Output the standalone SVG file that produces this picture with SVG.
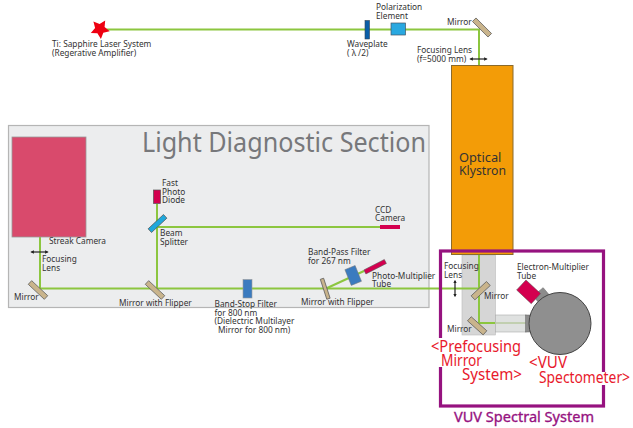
<svg xmlns="http://www.w3.org/2000/svg" width="633" height="428" viewBox="0 0 633 428">
<style>
text{font-family:"Noto Sans","Open Sans",sans-serif}
.l{font-size:8.3px;fill:#333}
.r{font-size:16.500px;fill:#e8192c}
.m{fill:#c9b48c;stroke:#555;stroke-width:.7}
.b{fill:none;stroke:#8cc63f;stroke-width:2}
.a{fill:none;stroke:#222;stroke-width:1.200}
</style>
<defs>
<marker id="h" markerWidth="3" markerHeight="3" refX="2" refY="1.500" orient="auto-start-reverse"><path d="M0 0L3 1.500L0 3Z" fill="#222"/></marker>
</defs>
<g id="diagnostic-panel">
<rect x="8.500" y="125.500" width="420.500" height="182" fill="#ecedee" stroke="#b5b5b5" stroke-width="1.200"/>
<text x="142" y="152" font-size="28" fill="#77787b" textLength="284" lengthAdjust="spacingAndGlyphs">Light Diagnostic Section</text>
</g>
<g id="prefocusing-panel">
<rect x="462" y="255" width="33.500" height="80" fill="#d6d6d6" stroke="#bbb" stroke-width=".6"/>
<rect x="495.500" y="315" width="31" height="17" fill="#dfe1e0" stroke="#aaa" stroke-width=".6"/>
</g>
<g id="connectors">
<path class="b" d="M100 29.500H479V65"/>
<path class="b" d="M479 255V288"/>
<path class="b" d="M40 237V288.500H480"/>
<path class="b" d="M157 204V288.500"/>
<path class="b" d="M157 227H381"/>
<path class="b" d="M325 289L364 271"/>
<path class="b" d="M479 294V323"/>
<path class="b" d="M479 323H495"/>
<path d="M495 323H527" fill="none" stroke="#b7c9a0" stroke-width="1.500"/>
<path class="a" marker-start="url(#h)" marker-end="url(#h)" d="M470.500 59H486.500"/>
<path class="a" marker-start="url(#h)" marker-end="url(#h)" d="M31.500 252H47.500"/>
<path class="a" marker-start="url(#h)" marker-end="url(#h)" d="M455 281V296"/>
</g>
<g id="laser"><path d="M100.900 39L97.400 33.300L90.800 32.900L95.100 27.900L93.400 21.500L99.600 24L105.200 20.400L104.600 27L109.700 31.200L103.300 32.800Z" fill="#ee0011"/>
<text class="l" x="52" y="47">Ti: Sapphire Laser System</text><text class="l" x="52" y="56">(Regerative Amplifier)</text></g>
<g id="waveplate"><rect x="365" y="20.500" width="4.500" height="18.500" fill="#0a5ea8" stroke="#345" stroke-width=".6"/>
<text class="l" x="347" y="47">Waveplate</text><text class="l" x="347" y="56">( λ /2)</text></g>
<g id="polarization"><rect x="391" y="23" width="14.500" height="12" fill="#29a8e0" stroke="#456" stroke-width=".7"/>
<text class="l" x="376" y="10">Polarization</text><text class="l" x="376" y="19">Element</text></g>
<g id="mirror-top"><rect class="m" x="471" y="25" width="22" height="5" transform="rotate(45 482 27.500)"/>
<text class="l" x="447" y="24.500">Mirror</text></g>
<text class="l" x="417" y="53">Focusing Lens</text><text class="l" x="417" y="62">(f=5000 mm)</text>
<g id="klystron"><rect x="451.500" y="65.500" width="61.500" height="189" fill="#f39c07" stroke="#8a6a2c" stroke-width="1"/>
<text x="459" y="162" font-size="12.800" fill="#333">Optical</text><text x="459" y="174.500" font-size="12.800" fill="#333" textLength="47" lengthAdjust="spacingAndGlyphs">Klystron</text></g>
<g id="streak"><rect x="12" y="137" width="74" height="100" fill="#d94a6c" stroke="#999" stroke-width=".8"/>
<text class="l" x="49" y="244">Streak Camera</text></g>
<text class="l" x="42" y="262">Focusing</text><text class="l" x="42" y="270.500">Lens</text>
<g id="mirror-left"><rect class="m" x="27" y="287.500" width="22" height="5" transform="rotate(43 38 290)"/>
<text class="l" x="14" y="300">Mirror</text></g>
<g id="flipper1"><rect class="m" x="144" y="287.500" width="22" height="5" transform="rotate(43 155 290)"/>
<text class="l" x="119" y="306">Mirror with Flipper</text></g>
<g id="photodiode"><rect x="153.500" y="190" width="7" height="13.500" fill="#d4004f" stroke="#555" stroke-width=".7"/>
<text class="l" x="162" y="186">Fast</text><text class="l" x="162" y="194.500">Photo</text><text class="l" x="162" y="203">Diode</text></g>
<g id="splitter"><rect class="m" style="fill:#1fa8dc" x="147" y="221" width="21" height="5" transform="rotate(-43 157.500 223.500)"/>
<text class="l" x="160" y="236">Beam</text><text class="l" x="160" y="245">Splitter</text></g>
<g id="ccd"><rect x="380" y="225" width="20" height="4" fill="#d4004f"/>
<text class="l" x="375" y="213">CCD</text><text class="l" x="375" y="221">Camera</text></g>
<g id="bandstop"><rect x="243" y="279.500" width="9" height="18.500" fill="#3b7bbf" stroke="#999" stroke-width=".6"/>
<text class="l" x="214.500" y="307">Band-Stop Filter</text><text class="l" x="214.500" y="315.500">for 800 nm</text><text class="l" x="214.500" y="324">(Dielectric Multilayer</text><text class="l" x="218" y="332.500">Mirror for 800 nm)</text></g>
<g id="flipper2"><rect class="m" x="314" y="286.500" width="21" height="3.500" transform="rotate(72 324.500 289)"/>
<text class="l" x="301" y="305">Mirror with Flipper</text></g>
<g id="bandpass"><rect x="347.500" y="267" width="11" height="17" fill="#3b7bbf" stroke="#777" stroke-width=".5" transform="rotate(-22 353 275)"/>
<text class="l" x="308" y="255">Band-Pass Filter</text><text class="l" x="308" y="264">for 267 nm</text></g>
<g id="pmt"><rect x="363.500" y="264.500" width="23" height="4.500" fill="#d4004f" stroke="#555" stroke-width=".5" transform="rotate(-27 375 266.500)"/>
<text class="l" x="372" y="279">Photo-Multiplier</text><text class="l" x="372" y="287">Tube</text></g>
<g id="vuv-box"><rect x="440.500" y="251" width="163" height="155" fill="none" stroke="#96127f" stroke-width="3.200"/>
<rect x="436" y="338" width="9" height="29" fill="#fff"/><rect x="598" y="372" width="11" height="13" fill="#fff"/>
<text x="454" y="422" font-size="15" fill="#96127f" stroke="#96127f" stroke-width=".35" textLength="140" lengthAdjust="spacingAndGlyphs">VUV Spectral System</text></g>
<text class="l" x="444" y="269">Focusing</text><text class="l" x="444" y="278">Lens</text>
<g id="mirror-a"><rect class="m" x="470" y="288" width="21" height="5.500" transform="rotate(-43 480.500 290.500)"/><text class="l" x="484" y="299">Mirror</text></g>
<g id="mirror-b"><rect class="m" x="466.500" y="323" width="21" height="5.500" transform="rotate(42 477 326)"/><text class="l" x="447" y="332">Mirror</text></g>
<g id="multiplier"><rect x="535" y="291" width="13" height="11" fill="#8c8c8c" stroke="#666" stroke-width=".5" transform="rotate(-40 541 296)"/>
<rect x="518.700" y="285" width="20" height="13.700" fill="#d4004f" stroke="#555" stroke-width=".5" transform="rotate(43 528.700 291.700)"/>
<text class="l" x="517" y="270">Electron-Multiplier</text><text class="l" x="517" y="278.500">Tube</text></g>
<g id="spectrometer"><rect x="525.500" y="315" width="6" height="17" fill="#8c8c8c" stroke="#666" stroke-width=".5"/>
<circle cx="560" cy="323.500" r="31" fill="#8f8f8f" stroke="#444" stroke-width="1"/></g>
<g id="labels">
<text class="r" x="431" y="351.500" textLength="90" lengthAdjust="spacingAndGlyphs">&lt;Prefocusing</text>
<text class="r" x="441" y="365.500" textLength="41" lengthAdjust="spacingAndGlyphs">Mirror</text>
<text class="r" x="462" y="380" textLength="60" lengthAdjust="spacingAndGlyphs">System&gt;</text>
<text class="r" x="529" y="368" textLength="38" lengthAdjust="spacingAndGlyphs">&lt;VUV</text>
<text class="r" x="539" y="383" textLength="91" lengthAdjust="spacingAndGlyphs">Spectometer&gt;</text>
</g>
</svg>
